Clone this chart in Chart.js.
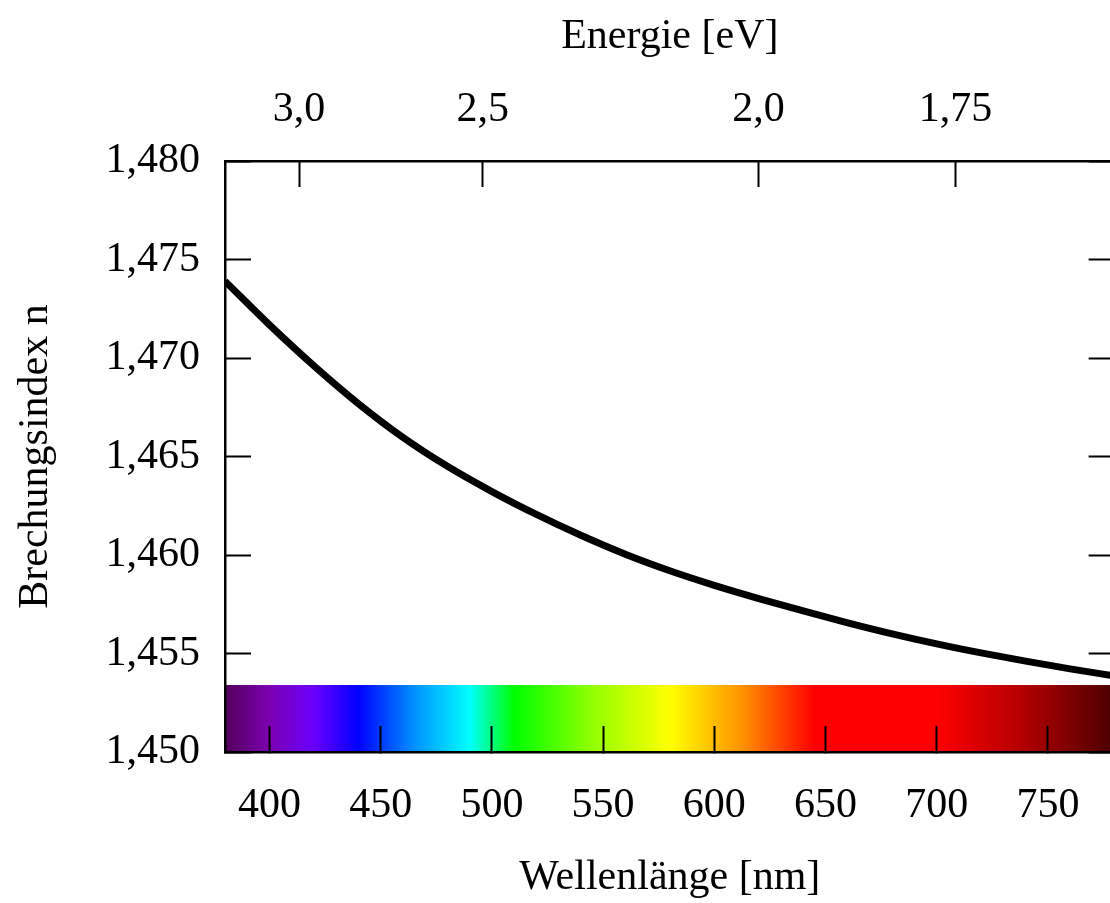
<!DOCTYPE html>
<html>
<head>
<meta charset="utf-8">
<script src="https://cdnjs.cloudflare.com/ajax/libs/Chart.js/4.4.1/chart.umd.min.js"></script>
<style>
  html, body { margin: 0; padding: 0; overflow: hidden; background: #fff; }
  #wrap { width: 1136px; height: 903px; }
</style>
</head>
<body>
<div id="wrap"><canvas id="chart" width="1136" height="903"></canvas></div>
<script>
// refractive index
const wavelengths = [380, 400, 420, 440, 460, 480, 500, 520, 540, 560, 580, 600, 620, 640, 660, 680, 700, 720, 740, 760, 780];
const refractiveIndex = [1.47390, 1.47168, 1.46960, 1.46768, 1.46597, 1.46450, 1.46322, 1.46206, 1.46100, 1.46004, 1.45920,
                         1.45846, 1.45779, 1.45716, 1.45656, 1.45600, 1.45549, 1.45503, 1.45461, 1.45422, 1.45386];

const wavelengthTicks = [400, 450, 500, 550, 600, 650, 700, 750];
const wavelengthTickLabels = ['400', '450', '500', '550', '600', '650', '700', '750'];
const indexTicks = [1.450, 1.455, 1.460, 1.465, 1.470, 1.475, 1.480];
const indexTickLabels = ['1,450', '1,455', '1,460', '1,465', '1,470', '1,475', '1,480'];
const energyTicks = [3.0, 2.5, 2.0, 1.75];
const energyTickLabels = ['3,0', '2,5', '2,0', '1,75'];

// visible spectrum band at the bottom
const bandRange = [1.450, 1.4534];
const spectrumStops = [
  [380, '#52005a'], [400, '#7c00b0'], [420, '#6a00ff'], [440, '#0000ff'],
  [465, '#0090ff'], [490, '#00ffff'], [510, '#00ff00'], [545, '#92ff00'],
  [580, '#ffff00'], [612, '#ff9400'], [645, '#ff0000'], [700, '#ff0000'],
  [740, '#b00000'], [780, '#4a0000']
];

const FONT = "'Liberation Serif', 'Times New Roman', serif";
const HC = 1239.84; // eV*nm

const spectrumBand = {
  id: 'spectrumBand',
  beforeDraw(chart) {
    const { ctx, scales } = chart;
    const x = scales.x, y = scales.y;
    const x0 = x.getPixelForValue(380), x1 = x.getPixelForValue(780);
    const yTop = y.getPixelForValue(bandRange[1]), yBot = y.getPixelForValue(bandRange[0]);
    const g = ctx.createLinearGradient(x0, 0, x1, 0);
    spectrumStops.forEach(([wl, c]) => g.addColorStop((wl - 380) / 400, c));
    ctx.save();
    ctx.fillStyle = g;
    ctx.fillRect(x0, yTop, x1 - x0, yBot - yTop);
    ctx.restore();
  }
};

const tickGrid = { drawOnChartArea: false, drawTicks: true, tickLength: -26, tickWidth: 2, tickColor: '#000', color: '#000' };
const axisBorder = { display: true, color: '#000', width: 2.5 };
const tickFont = { family: FONT, size: 42 };

new Chart(document.getElementById('chart'), {
  type: 'line',
  data: {
    datasets: [{
      data: wavelengths.map((w, i) => ({ x: w, y: refractiveIndex[i] })),
      borderColor: '#000',
      borderWidth: 7,
      pointRadius: 0,
      fill: false,
      cubicInterpolationMode: 'monotone'
    }]
  },
  options: {
    responsive: false,
    animation: false,
    devicePixelRatio: 1,
    layout: { padding: 0 },
    plugins: { legend: { display: false }, tooltip: { enabled: false } },
    scales: {
      x: {
        type: 'linear', position: 'bottom', min: 380, max: 780,
        afterFit: s => { s.height = 151; },
        afterBuildTicks: s => { s.ticks = wavelengthTicks.map(v => ({ value: v })); },
        grid: tickGrid, border: axisBorder,
        ticks: { autoSkip: false, maxRotation: 0, padding: 55, color: '#000', font: tickFont,
                 callback: (v, i) => wavelengthTickLabels[i] },
        title: { display: true, text: 'Wellenlänge [nm]', color: '#000', font: { family: FONT, size: 42 }, padding: { top: 0, bottom: 0 } }
      },
      x2: {
        type: 'linear', position: 'top', min: 380, max: 780,
        afterFit: s => { s.height = 161; },
        afterBuildTicks: s => { s.ticks = energyTicks.map(e => ({ value: HC / e })); },
        grid: tickGrid, border: axisBorder,
        ticks: { autoSkip: false, maxRotation: 0, padding: 52, color: '#000', font: tickFont,
                 callback: (v, i) => energyTickLabels[i] },
        title: { display: true, text: 'Energie [eV]', color: '#000', font: { family: FONT, size: 42 }, padding: { top: 12, bottom: 0 } }
      },
      y: {
        type: 'linear', position: 'left', min: 1.450, max: 1.480,
        afterFit: s => { s.width = 225; },
        afterBuildTicks: s => { s.ticks = indexTicks.map(v => ({ value: v })); },
        grid: tickGrid, border: axisBorder,
        ticks: { autoSkip: false, padding: 51, color: '#000', font: tickFont,
                 callback: (v, i) => indexTickLabels[i] },
        title: { display: true, text: 'Brechungsindex n', color: '#000', font: { family: FONT, size: 42 }, padding: { top: 11, bottom: 0 } }
      },
      y2: {
        type: 'linear', position: 'right', min: 1.450, max: 1.480,
        afterFit: s => { s.width = 10; },
        afterBuildTicks: s => { s.ticks = indexTicks.map(v => ({ value: v })); },
        grid: tickGrid, border: axisBorder,
        ticks: { display: false }
      }
    }
  },
  plugins: [spectrumBand]
});
</script>
</body>
</html>
